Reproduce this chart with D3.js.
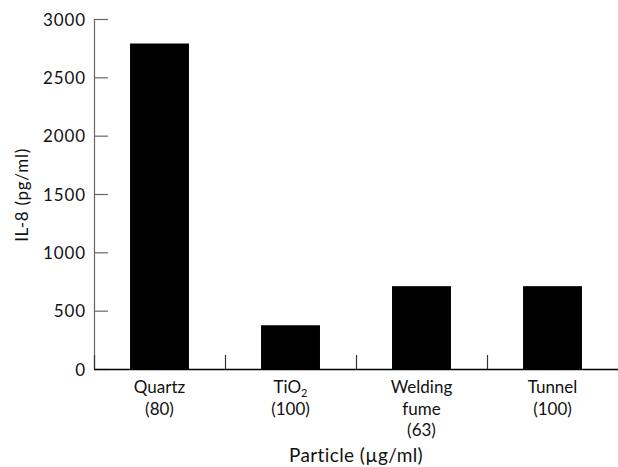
<!DOCTYPE html>
<html>
<head>
<meta charset="utf-8">
<script src="https://cdn.jsdelivr.net/npm/d3@7"></script>
<style>
  html, body { margin: 0; padding: 0; background: #fff; }
  svg { display: block; }
  text { font-family: "Lato", "DejaVu Sans", sans-serif; fill: #111; }
</style>
</head>
<body>
<div id="chart"></div>
<script>
const categories = ["Quartz", "TiO2", "Welding fume", "Tunnel"];
const categoryLines = [["Quartz", "(80)"], ["TiO₂", "(100)"], ["Welding", "fume", "(63)"], ["Tunnel", "(100)"]];
const il8Values = [2790, 375, 710, 710];
const yTicks = [0, 500, 1000, 1500, 2000, 2500, 3000];
const yLabel = "IL-8 (pg/ml)";
const xLabel = "Particle (µg/ml)";

const W = 618, H = 467;
const margin = { left: 94, right: 0, top: 19, bottom: 98 };

const svg = d3.select("#chart").append("svg").attr("width", W).attr("height", H);

const x = d3.scaleBand().domain(categories).range([margin.left, W - margin.right])
  .paddingInner(0.55).paddingOuter(0.275);
const y = d3.scaleLinear().domain([0, 3000]).range([H - margin.bottom, margin.top]);

// bars
svg.append("g").selectAll("rect").data(categories).join("rect")
  .attr("x", d => x(d))
  .attr("width", x.bandwidth())
  .attr("y", (d, i) => y(il8Values[i]))
  .attr("height", (d, i) => y(0) - y(il8Values[i]))
  .attr("fill", "#000");

// y axis (ticks pointing inward)
const yAxis = d3.axisRight(y).tickValues(yTicks).tickSize(14).tickFormat(d3.format("d"));
const gy = svg.append("g").attr("transform", `translate(${margin.left},0)`).call(yAxis);
gy.select(".domain").attr("stroke", "#666").attr("stroke-width", 1.2).attr("d", `M0.5,${y(3000)}V${y(0)}`);
gy.selectAll(".tick line").attr("stroke", "#666").attr("stroke-width", 1.2);
gy.selectAll(".tick text")
  .attr("x", -8).attr("text-anchor", "end").attr("dy", "0.36em")
  .style("font-size", "17px").style("letter-spacing", "0.9px");

// x axis: baseline and separators at band edges
const step = x.step();
const edges = d3.range(categories.length).map(i => x(categories[i]) - x.paddingOuter() * step);
const gx = svg.append("g").attr("transform", `translate(0,${y(0)})`);
gx.append("line").attr("x1", margin.left).attr("x2", W).attr("y1", 0.5).attr("y2", 0.5)
  .attr("stroke", "#000").attr("stroke-width", 1.5);
gx.selectAll("line.sep").data(edges).join("line").attr("class", "sep")
  .attr("x1", d => d + 0.5).attr("x2", d => d + 0.5).attr("y1", 0).attr("y2", -14)
  .attr("stroke", "#333").attr("stroke-width", 1.2);

// category labels (one text element per line)
categories.forEach((d, i) => {
  categoryLines[i].forEach((line, j) => {
    const t = gx.append("text").attr("class", "cat")
      .attr("text-anchor", "middle")
      .attr("x", x(d) + x.bandwidth() / 2).attr("y", 24 + j * 21.5)
      .style("font-size", "17px");
    if (line === "TiO₂") {
      t.append("tspan").text("TiO");
      t.append("tspan").attr("dy", 3.5).style("font-size", "11px").text("2");
    } else {
      t.text(line);
    }
  });
});

// axis titles
svg.append("text").attr("x", (margin.left + W) / 2).attr("y", 462)
  .attr("text-anchor", "middle").style("font-size", "19px").style("letter-spacing", "0.4px").text(xLabel);
svg.append("text").attr("transform", `translate(28,195) rotate(-90)`)
  .attr("text-anchor", "middle").style("font-size", "17px").style("letter-spacing", "0.7px").text(yLabel);
</script>
</body>
</html>
